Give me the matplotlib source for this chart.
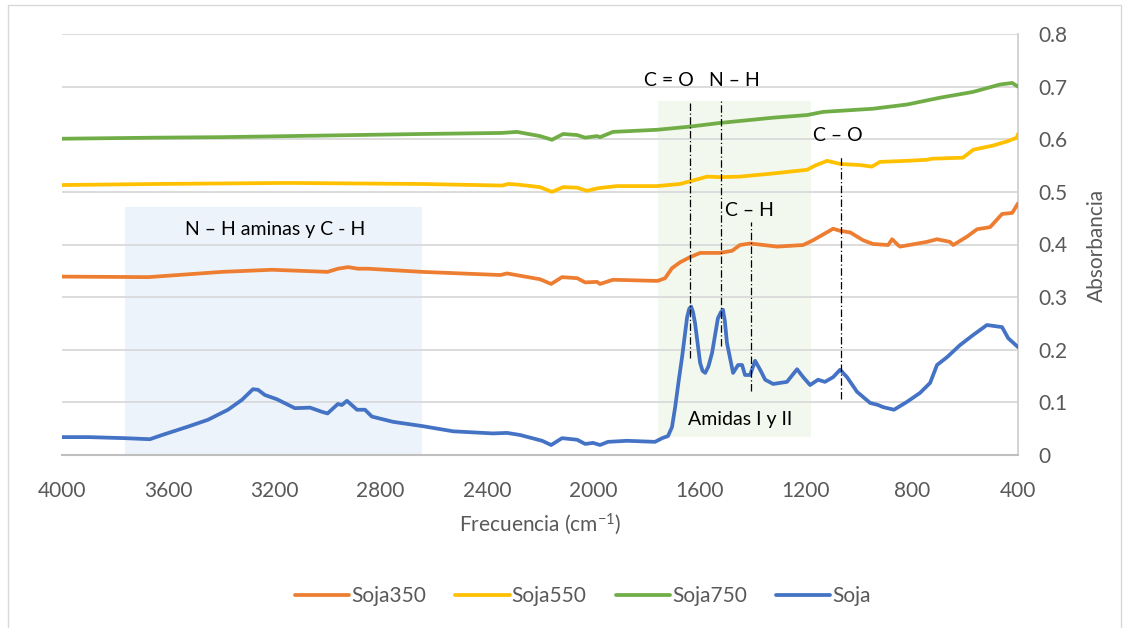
import numpy as np
import matplotlib
matplotlib.use("Agg")
import matplotlib.pyplot as plt
from matplotlib.patches import Rectangle
from matplotlib.ticker import FuncFormatter

plt.rcParams['font.family'] = ['Lato', 'DejaVu Sans']
plt.rcParams['mathtext.fontset'] = 'custom'
plt.rcParams['mathtext.rm'] = 'Lato'
plt.rcParams['mathtext.default'] = 'regular'

# Soja (sin tratar)
soja_f = [4000, 3900, 3763, 3669, 3623, 3525, 3450, 3375, 3322, 3281, 3262, 3236, 3191,
          3123, 3066, 3021, 3000, 2961, 2946, 2927, 2889, 2859, 2833, 2753, 2644, 2527,
          2377, 2324, 2275, 2192, 2158, 2117, 2060, 2030, 2000, 1974, 1944, 1872, 1767,
          1740, 1718, 1703, 1691, 1678, 1665, 1646, 1638, 1631, 1624, 1616, 1597, 1588, 1578,
          1566, 1552, 1530, 1518, 1511, 1504, 1496, 1473, 1454, 1439, 1428, 1409, 1390, 1371,
          1352, 1322, 1270, 1232, 1209, 1183, 1153, 1127, 1096, 1070, 1044, 1006, 957, 927,
          908, 867, 818, 769, 731, 705, 667, 618, 569, 517, 460, 437, 400]
soja_a = [0.034, 0.034, 0.032, 0.030, 0.038, 0.054, 0.067, 0.086, 0.105, 0.125, 0.124, 0.114, 0.106,
          0.089, 0.090, 0.082, 0.079, 0.097, 0.095, 0.103, 0.086, 0.086, 0.073, 0.063, 0.055, 0.045,
          0.041, 0.042, 0.038, 0.027, 0.019, 0.032, 0.029, 0.021, 0.023, 0.019, 0.025, 0.027, 0.025,
          0.032, 0.036, 0.053, 0.091, 0.140, 0.186, 0.262, 0.278, 0.282, 0.272, 0.250, 0.175, 0.160, 0.156,
          0.168, 0.194, 0.260, 0.272, 0.276, 0.255, 0.213, 0.156, 0.171, 0.171, 0.152, 0.152, 0.179, 0.162,
          0.143, 0.135, 0.139, 0.163, 0.148, 0.133, 0.143, 0.139, 0.148, 0.162, 0.148, 0.120, 0.099, 0.095,
          0.091, 0.086, 0.101, 0.118, 0.137, 0.171, 0.186, 0.209, 0.228, 0.247, 0.243, 0.222, 0.205]

# Soja350
s350_f = [4000, 3675, 3397, 3209, 3000, 2961, 2923, 2885, 2848, 2814, 2644, 2350, 2324, 2200,
          2158, 2117, 2060, 2030, 1985, 1974, 1925, 1774, 1756, 1729, 1703, 1673, 1635, 1597,
          1522, 1477, 1447, 1409, 1307, 1209, 1172, 1096, 1070, 1032, 983, 946, 889, 874, 852,
          844, 743, 705, 656, 644, 592, 554, 505, 460, 422, 400]
s350_a = [0.339, 0.338, 0.348, 0.352, 0.348, 0.354, 0.357, 0.354, 0.354, 0.353, 0.348, 0.342, 0.345, 0.334,
          0.325, 0.338, 0.336, 0.328, 0.329, 0.325, 0.333, 0.331, 0.331, 0.336, 0.355, 0.366, 0.376, 0.384,
          0.384, 0.388, 0.399, 0.402, 0.396, 0.399, 0.408, 0.430, 0.426, 0.423, 0.408, 0.401, 0.399, 0.410, 0.399,
          0.396, 0.405, 0.410, 0.405, 0.399, 0.415, 0.429, 0.433, 0.458, 0.460, 0.478]

# Soja550
s550_f = [4000, 3650, 3149, 2644, 2343, 2320, 2287, 2200, 2155, 2113, 2060, 2023, 1981, 1910,
          1759, 1673, 1628, 1571, 1522, 1447, 1322, 1194, 1164, 1119, 1070, 995, 950, 920, 818,
          743, 724, 607, 569, 532, 494, 441, 404, 400]
s550_a = [0.513, 0.515, 0.517, 0.515, 0.512, 0.515, 0.514, 0.509, 0.500, 0.509, 0.508, 0.502, 0.507, 0.511,
          0.511, 0.515, 0.521, 0.529, 0.528, 0.529, 0.535, 0.542, 0.550, 0.559, 0.553, 0.551, 0.548, 0.557, 0.559,
          0.561, 0.563, 0.565, 0.580, 0.584, 0.588, 0.596, 0.603, 0.610]

# Soja750
s750_f = [4000, 3650, 3397, 3021, 2644, 2343, 2287, 2200, 2155, 2113, 2060, 2030, 1985, 1974,
          1925, 1759, 1635, 1522, 1322, 1194, 1134, 946, 818, 693, 569, 468, 422, 400]
s750_a = [0.601, 0.603, 0.604, 0.607, 0.610, 0.612, 0.614, 0.606, 0.599, 0.610, 0.608, 0.603, 0.606, 0.604,
          0.614, 0.618, 0.624, 0.631, 0.641, 0.646, 0.652, 0.658, 0.666, 0.679, 0.690, 0.704, 0.707, 0.700]

series = [("Soja350", s350_f, s350_a, "#ED7D31"),
          ("Soja550", s550_f, s550_a, "#FFC000"),
          ("Soja750", s750_f, s750_a, "#70AD47"),
          ("Soja", soja_f, soja_a, "#4472C4")]

# marcas de bandas: (frecuencia, y inicio, y fin)
bandas = [(1635, 0.184, 0.673), (1518, 0.207, 0.673), (1405, 0.122, 0.443), (1066, 0.106, 0.567)]
etiquetas = [("C = O", 1714, 0.711), ("N – H", 1469, 0.711), ("C – O", 1077, 0.608),
             ("C – H", 1413, 0.464), ("Amidas I y II", 1447, 0.067),
             ("N – H aminas y C - H", 3198, 0.428)]

fig = plt.figure(figsize=(11.34, 6.28), dpi=100)
ax = fig.add_axes([62/1134, 1-455/628, (1018-62)/1134, (455-34)/628])

# regiones sombreadas
ax.add_patch(Rectangle((3763, 0), 2644-3763, 0.471, facecolor="#EDF3FA", edgecolor="none", zorder=0))
ax.add_patch(Rectangle((1756, 0.034), 1180-1756, 0.673-0.034, facecolor="#F3F8EE", edgecolor="none", zorder=0))

for name, f, a, c in series:
    ax.plot(f, a, color=c, lw=2.7, label=name, solid_capstyle='round',
            solid_joinstyle='round', zorder=3)

for x, y0, y1 in bandas:
    ax.plot([x, x], [y0, y1], color="black", lw=0.9, ls=(0, (6, 2, 1, 2)), zorder=4)
for t, x, y in etiquetas:
    ax.text(x, y, t, ha="center", va="center", fontsize=14, color="black", zorder=5)

ax.set_xlim(4000, 400)
ax.set_ylim(0, 0.8)
ax.set_xticks(np.arange(4000, 399, -400))
ax.set_yticks(np.arange(0, 0.81, 0.1))
ax.yaxis.set_major_formatter(FuncFormatter(lambda v, _: f"{round(v, 2):g}"))
ax.yaxis.tick_right()
ax.tick_params(axis="both", length=0, labelsize=15, labelcolor="#595959")
ax.tick_params(axis="x", pad=19)
ax.tick_params(axis="y", pad=15)
ax.grid(axis="y", color="#D9D9D9", lw=1.3)
ax.set_axisbelow(True)
for s in ["top", "left"]:
    ax.spines[s].set_visible(False)
ax.spines["bottom"].set_color("#BFBFBF")
ax.spines["bottom"].set_linewidth(1.5)
ax.spines["right"].set_color("#D0D0D0")
ax.spines["right"].set_linewidth(1.3)

ax.set_xlabel("Frecuencia (cm$^{-1}$)", fontsize=15, color="#595959")
ax.xaxis.set_label_coords(0.5, -0.135)
fig.text(1097/1134, 1-245/628, "Absorbancia", rotation=90, ha="center", va="center",
         fontsize=15, color="#595959")

fig.legend(loc="center", bbox_to_anchor=(583/1134, 1-596/628), ncol=4, frameon=False,
           fontsize=15, handlelength=2.6, handletextpad=0.1, columnspacing=1.4,
           labelcolor="#595959")

fig.add_artist(Rectangle((8/1134, -0.01), (1121-8)/1134, 1.01-5/628, transform=fig.transFigure,
                         fill=False, edgecolor="#D9D9D9", lw=1.0))

fig.savefig("out.png", dpi=100)
